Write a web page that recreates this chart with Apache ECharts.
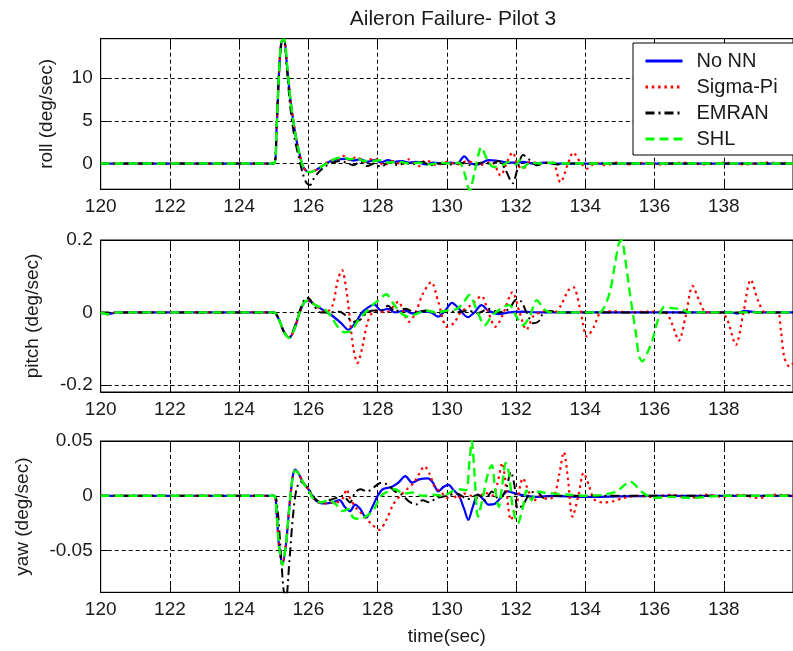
<!DOCTYPE html>
<html>
<head>
<meta charset="utf-8">
<script src="https://cdn.jsdelivr.net/npm/echarts@6/dist/echarts.min.js"></script>
<style>
  html, body { margin: 0; padding: 0; background: #fff; }
  #chart { width: 793px; height: 651px; }
</style>
</head>
<body>
<div id="chart"></div>
<script>
// ---- axes ----
const timeRange = [120, 140];
const timeStep = 2;
const rollTicks = [0, 5, 10];
const pitchTicks = [-0.2, 0, 0.2];
const yawTicks = [-0.05, 0, 0.05];
const rollRange = [-3, 14.6];
const pitchRange = [-0.22, 0.2];
const yawRange = [-0.088, 0.05];
const seriesNames = ['No NN', 'Sigma-Pi', 'EMRAN', 'SHL'];

// ---- roll rate (deg/sec), [time, value] ----
const rollNoNN = [[120,0],[125.0,0],[125.08,4],[125.15,10.5],[125.22,14.2],[125.3,14.4],[125.38,11.5],[125.48,7.5],[125.6,4],[125.72,1.5],[125.84,-0.3],[125.95,-0.9],[126.05,-1.0],[126.2,-0.8],[126.4,-0.3],[126.6,0.2],[126.85,0.5],[127.1,0.55],[127.3,0.35],[127.5,0.5],[127.7,0.2],[127.9,0.4],[128.1,0.15],[128.3,0.4],[128.5,0.2],[128.7,0.3],[128.9,0.1],[129.1,0.2],[129.4,-0.1],[129.6,0.1],[129.9,0.0],[130.1,0.1],[130.3,0.0],[130.5,0.85],[130.7,0.0],[130.9,-0.1],[131.2,0.4],[131.5,0.3],[131.8,0.1],[132.0,0.1],[132.2,0.2],[132.5,0.0],[132.8,0.1],[133.2,0.0],[134,0.0],[140,0]];
const rollSigmaPi = [[120,0],[125.0,0],[125.08,4],[125.15,10.5],[125.22,14.2],[125.3,14.4],[125.38,11.5],[125.48,7.5],[125.6,4],[125.72,1.5],[125.84,-0.3],[125.95,-0.9],[126.05,-1.0],[126.2,-0.8],[126.4,-0.3],[126.6,0.3],[126.9,0.6],[127.0,0.9],[127.2,0.4],[127.4,0.8],[127.6,0.2],[127.9,0.6],[128.2,-0.2],[128.4,0.3],[128.7,-0.1],[128.9,0.5],[129.2,-0.3],[129.4,0.4],[129.7,-0.2],[130.0,0.2],[130.3,-0.1],[130.6,0.3],[130.9,-0.2],[131.3,0.2],[131.55,-1.4],[131.75,0.3],[131.9,1.3],[132.05,-0.2],[132.2,-0.6],[132.4,0.2],[132.7,0.0],[133.05,0.1],[133.28,-2.2],[133.5,0.0],[133.65,1.3],[133.85,0.2],[134.05,-0.6],[134.3,0.1],[134.6,-0.2],[134.9,0.1],[135.3,-0.1],[135.7,0.1],[136.2,-0.1],[136.8,0.1],[137.4,-0.1],[138,0.1],[138.6,-0.1],[139.2,0.1],[140,0]];
const rollEMRAN = [[120,0],[125.0,0],[125.08,4],[125.15,10.5],[125.22,14.0],[125.3,14.2],[125.38,11],[125.48,6.5],[125.6,3],[125.72,0.8],[125.84,-1.2],[125.95,-2.3],[126.05,-2.5],[126.15,-1.8],[126.3,-1.0],[126.5,-0.3],[126.7,0.1],[126.9,0.3],[127.1,0.1],[127.3,-0.2],[127.5,0.2],[127.7,-0.3],[127.9,0.0],[128.1,-0.4],[128.3,0.1],[128.6,-0.2],[128.8,0.1],[129.0,-0.1],[129.3,0.2],[129.5,-0.2],[129.8,0.0],[130.1,-0.1],[130.4,0.1],[130.7,-0.2],[131.0,0.1],[131.3,0.0],[131.5,0.3],[131.7,-0.8],[131.9,-2.3],[132.05,-0.5],[132.2,1.0],[132.4,0.4],[132.6,-0.2],[132.9,0.1],[133.2,-0.1],[133.5,0.0],[140,0]];
const rollSHL = [[120,0],[125.0,0],[125.08,4],[125.15,10.5],[125.22,14.3],[125.3,14.5],[125.38,11.8],[125.48,7.5],[125.6,4],[125.72,1.5],[125.84,-0.3],[125.95,-0.9],[126.05,-1.0],[126.2,-0.8],[126.4,-0.3],[126.6,0.2],[126.8,0.6],[127.0,0.7],[127.2,0.5],[127.4,0.6],[127.6,0.3],[127.9,0.3],[128.1,0.4],[128.3,0.1],[128.6,0.2],[128.9,0.0],[129.2,0.1],[129.5,-0.1],[129.8,0.1],[130.1,0.0],[130.35,0.1],[130.5,-1.0],[130.66,-3.2],[130.8,-1.0],[131.0,1.9],[131.15,0.6],[131.35,-0.4],[131.6,-0.2],[131.8,0.2],[132.0,-0.1],[132.1,0.4],[132.2,-0.5],[132.4,0.1],[132.7,0.0],[133.0,0.1],[133.5,0.0],[140,0]];

// ---- pitch rate (deg/sec) ----
const pitchNoNN = [[120,0],[120.2,-0.005],[120.5,0],[125.0,0],[125.15,-0.02],[125.3,-0.055],[125.45,-0.07],[125.6,-0.045],[125.75,0.0],[125.9,0.03],[126.0,0.032],[126.2,0.02],[126.45,0.005],[126.7,-0.01],[126.95,-0.03],[127.15,-0.048],[127.35,-0.03],[127.55,0.0],[127.75,0.015],[127.9,0.022],[128.1,0.005],[128.3,0.01],[128.5,0.0],[128.8,0.005],[129.0,-0.003],[129.3,0.003],[129.55,0.0],[129.75,-0.012],[129.95,0.005],[130.15,0.026],[130.35,0.01],[130.6,-0.013],[130.8,0.0],[131.0,0.02],[131.2,0.005],[131.5,-0.005],[131.8,0.0],[132.2,0.002],[132.6,0.0],[133.2,0.0],[138.2,0],[138.4,-0.003],[138.6,0.004],[139,0],[140,0]];
const pitchSigmaPi = [[120,0],[120.2,-0.005],[120.5,0],[125.0,0],[125.15,-0.02],[125.3,-0.055],[125.45,-0.07],[125.6,-0.045],[125.75,0.0],[125.9,0.03],[126.0,0.032],[126.2,0.02],[126.5,0.0],[126.7,0.02],[126.85,0.09],[126.97,0.117],[127.1,0.06],[127.2,-0.02],[127.3,-0.1],[127.42,-0.14],[127.55,-0.1],[127.7,-0.03],[127.85,0.0],[128.0,0.005],[128.2,0.0],[128.35,0.005],[128.6,0.03],[128.75,0.0],[128.9,-0.026],[129.1,0.0],[129.3,0.05],[129.55,0.084],[129.75,0.03],[130.0,-0.04],[130.2,-0.03],[130.4,0.0],[130.7,0.02],[131.0,0.045],[131.2,0.0],[131.4,-0.04],[131.6,-0.01],[131.9,0.056],[132.1,0.0],[132.3,-0.048],[132.5,-0.01],[132.7,0.0],[132.9,0.005],[133.1,0.0],[133.3,0.02],[133.5,0.06],[133.65,0.07],[133.85,0.01],[134.05,-0.067],[134.25,-0.04],[134.45,0.0],[134.8,0.003],[135.3,0.0],[135.8,0.002],[136.3,0.0],[136.5,-0.03],[136.7,-0.078],[136.9,-0.01],[137.1,0.073],[137.3,0.03],[137.5,0.0],[137.9,0.0],[138.1,-0.02],[138.35,-0.09],[138.55,-0.01],[138.78,0.09],[139.0,0.03],[139.2,0.0],[139.55,0.0],[139.65,-0.05],[139.75,-0.125],[139.9,-0.15],[140,-0.14]];
const pitchEMRAN = [[120,0],[125,0],[125.15,-0.02],[125.3,-0.055],[125.45,-0.068],[125.6,-0.04],[125.75,0.005],[125.9,0.038],[126.0,0.04],[126.15,0.02],[126.35,0.0],[126.6,0.0],[126.9,0.002],[127.1,-0.01],[127.3,-0.026],[127.5,-0.02],[127.7,0.0],[127.9,0.005],[128.1,0.005],[128.3,0.018],[128.5,0.003],[128.8,0.01],[129.1,0.0],[129.4,0.005],[129.7,-0.003],[130.0,0.005],[130.3,0.0],[130.6,0.005],[130.9,-0.002],[131.2,0.01],[131.5,0.0],[131.8,0.01],[132.0,0.035],[132.15,0.03],[132.3,0.0],[132.5,-0.03],[132.65,-0.025],[132.8,0.0],[133.0,0.003],[133.3,0.0],[140,0]];
const pitchSHL = [[120,0],[120.2,-0.005],[120.5,0],[125,0],[125.15,-0.02],[125.3,-0.055],[125.45,-0.07],[125.6,-0.045],[125.75,0.0],[125.9,0.03],[126.0,0.032],[126.2,0.02],[126.45,0.01],[126.65,-0.01],[126.85,-0.04],[127.05,-0.055],[127.25,-0.05],[127.45,-0.02],[127.65,0.0],[127.85,0.02],[128.05,0.035],[128.25,0.05],[128.45,0.025],[128.65,0.0],[128.9,-0.012],[129.1,-0.005],[129.4,0.005],[129.7,0.0],[130.0,0.005],[130.3,0.01],[130.5,0.03],[130.65,0.048],[130.85,0.01],[131.1,-0.035],[131.3,-0.01],[131.55,0.01],[131.8,0.02],[132.0,-0.01],[132.2,-0.035],[132.4,-0.01],[132.6,0.034],[132.8,0.01],[133.0,0.0],[134.4,0.0],[134.55,0.015],[134.72,0.06],[134.85,0.13],[134.97,0.19],[135.05,0.2],[135.15,0.15],[135.3,0.044],[135.45,-0.05],[135.55,-0.12],[135.65,-0.135],[135.8,-0.11],[135.94,-0.076],[136.1,-0.02],[136.28,0.015],[136.5,0.012],[136.8,0.008],[137.0,0.0],[140,0]];

// ---- yaw rate (deg/sec) ----
const yawNoNN = [[120,0],[125,0],[125.08,-0.015],[125.15,-0.045],[125.25,-0.062],[125.35,-0.045],[125.45,-0.01],[125.55,0.018],[125.62,0.024],[125.72,0.02],[125.85,0.012],[126.0,0.006],[126.15,-0.002],[126.3,-0.006],[126.5,-0.007],[126.7,-0.006],[126.9,-0.004],[127.05,-0.01],[127.2,-0.014],[127.35,-0.008],[127.5,-0.012],[127.67,-0.02],[127.85,-0.01],[128.0,0.0],[128.15,0.006],[128.4,0.008],[128.6,0.012],[128.8,0.018],[129.0,0.012],[129.2,0.015],[129.45,0.016],[129.6,0.012],[129.75,0.004],[129.9,0.008],[130.05,0.01],[130.2,0.005],[130.35,0.0],[130.5,-0.012],[130.62,-0.022],[130.75,-0.01],[130.9,0.001],[131.05,-0.003],[131.2,-0.008],[131.4,-0.007],[131.6,0.0],[131.75,0.004],[132.0,0.002],[132.3,0.0],[132.6,-0.001],[133,0.0],[134,-0.001],[136,0],[140,0]];
const yawSigmaPi = [[120,0],[125,0],[125.08,-0.015],[125.15,-0.045],[125.25,-0.062],[125.35,-0.045],[125.45,-0.01],[125.55,0.018],[125.62,0.024],[125.72,0.02],[125.85,0.012],[126.0,0.006],[126.15,-0.002],[126.3,-0.006],[126.5,-0.007],[126.7,-0.006],[126.8,-0.006],[127.0,-0.002],[127.1,0.006],[127.2,-0.002],[127.4,-0.012],[127.6,-0.018],[127.8,-0.025],[128.05,-0.031],[128.25,-0.022],[128.45,-0.008],[128.65,0.0],[128.85,0.006],[129.05,0.012],[129.2,0.02],[129.35,0.027],[129.5,0.02],[129.65,0.008],[129.85,0.003],[130.0,-0.002],[130.15,0.003],[130.3,-0.003],[130.5,0.002],[130.7,0.0],[130.9,-0.002],[131.1,0.003],[131.3,0.0],[131.45,0.01],[131.6,0.03],[131.72,0.005],[131.85,-0.022],[132.0,-0.01],[132.2,0.016],[132.35,0.005],[132.5,-0.005],[132.7,0.0],[132.9,-0.003],[133.1,0.0],[133.25,0.02],[133.38,0.04],[133.5,0.015],[133.63,-0.019],[133.8,0.0],[133.95,0.021],[134.1,0.01],[134.25,-0.003],[134.5,-0.006],[134.8,-0.005],[135.1,-0.002],[135.5,0.0],[136,-0.001],[136.5,0.001],[137,-0.002],[137.5,0.001],[138,-0.001],[138.5,0.001],[139,-0.002],[139.5,0.001],[140,0]];
const yawEMRAN = [[120,0],[125,0],[125.1,-0.01],[125.2,-0.05],[125.28,-0.085],[125.35,-0.095],[125.45,-0.06],[125.55,-0.02],[125.65,0.005],[125.77,0.013],[125.9,0.01],[126.05,0.004],[126.2,-0.003],[126.4,-0.006],[126.6,-0.004],[126.8,-0.002],[127.0,0.0],[127.2,-0.006],[127.35,0.003],[127.5,0.006],[127.7,0.004],[127.9,0.008],[128.1,0.012],[128.3,0.01],[128.5,0.004],[128.7,0.001],[128.9,-0.005],[129.1,-0.008],[129.3,-0.004],[129.5,-0.006],[129.7,-0.002],[130.0,0.0],[130.3,0.002],[130.6,-0.003],[130.9,0.001],[131.1,-0.004],[131.3,0.004],[131.5,-0.003],[131.7,0.005],[131.85,0.022],[131.95,0.01],[132.05,-0.012],[132.2,-0.008],[132.4,0.002],[132.6,0.004],[132.8,-0.002],[133.0,0.0],[140,0]];
const yawSHL = [[120,0],[125,0],[125.08,-0.015],[125.15,-0.045],[125.25,-0.063],[125.35,-0.045],[125.45,-0.01],[125.55,0.018],[125.62,0.023],[125.72,0.02],[125.85,0.012],[126.0,0.005],[126.15,-0.003],[126.35,-0.006],[126.6,-0.004],[126.8,-0.008],[127.0,-0.014],[127.15,-0.012],[127.3,-0.02],[127.5,-0.021],[127.7,-0.018],[127.9,-0.012],[128.1,0.0],[128.3,0.004],[128.5,0.006],[128.75,0.002],[129.0,0.003],[129.3,0.0],[129.6,0.001],[129.9,0.0],[130.15,0.004],[130.35,0.006],[130.55,0.005],[130.65,0.03],[130.72,0.05],[130.8,0.02],[130.9,-0.019],[131.05,0.0],[131.2,0.022],[131.3,0.028],[131.4,0.005],[131.5,-0.01],[131.6,0.01],[131.7,0.03],[131.8,0.02],[131.9,-0.01],[132.05,-0.025],[132.2,-0.01],[132.3,0.005],[132.45,-0.004],[132.6,0.004],[132.8,0.003],[133.1,0.002],[133.5,0.001],[134,0.0],[134.5,0.001],[134.9,0.004],[135.1,0.009],[135.3,0.013],[135.5,0.008],[135.7,0.002],[136.0,-0.002],[136.5,-0.001],[137,-0.002],[138,0],[140,0]];

// ---- drawing ----
const FONT = "'Liberation Sans', Arial, sans-serif";
const TXT = '#1a1a1a';
const styles = [
  { color: '#0000ff', width: 2.2, type: 'solid' },
  { color: '#ff0000', width: 2.2, type: [2.5, 3.8] },
  { color: '#000000', width: 2, type: [9, 4, 2, 4] },
  { color: '#00ff00', width: 2.4, type: [9, 5] }
];

const panels = [
  { name: 'roll (deg/sec)', range: rollRange, ticks: rollTicks, gap: 44, top: 38.7, height: 150.5,
    data: [rollNoNN, rollSigmaPi, rollEMRAN, rollSHL] },
  { name: 'pitch (deg/sec)', range: pitchRange, ticks: pitchTicks, gap: 58, top: 240, height: 152,
    data: [pitchNoNN, pitchSigmaPi, pitchEMRAN, pitchSHL] },
  { name: 'yaw (deg/sec)', range: yawRange, ticks: yawTicks, gap: 68, top: 441, height: 151.3,
    data: [yawNoNN, yawSigmaPi, yawEMRAN, yawSHL] }
];

const gridLine = { show: true, lineStyle: { color: '#000', width: 1, type: [4, 3] } };
const grids = [], xAxes = [], topAxes = [], yAxes = [], series = [];

panels.forEach((p, i) => {
  grids.push({ left: 100.7, top: p.top, width: 701.2, height: p.height,
    show: true, borderColor: '#000', borderWidth: 1, backgroundColor: '#fff' });
  xAxes.push({
    gridIndex: i, type: 'value', min: timeRange[0], max: timeRange[1], interval: timeStep,
    axisLine: { show: true, onZero: false, lineStyle: { color: '#000', width: 1 } },
    axisTick: { show: true, inside: true, length: 7, lineStyle: { color: '#000' } },
    axisLabel: { show: true, showMaxLabel: false, color: TXT, fontSize: 19, fontFamily: FONT, margin: 8 },
    splitLine: gridLine,
    name: i === 2 ? 'time(sec)' : '', nameLocation: 'middle', nameGap: 35,
    nameTextStyle: { color: TXT, fontSize: 19, fontFamily: FONT }
  });
  topAxes.push({
    gridIndex: i, type: 'value', position: 'top', min: timeRange[0], max: timeRange[1], interval: timeStep,
    axisLine: { show: true, onZero: false, lineStyle: { color: '#000', width: 1 } },
    axisTick: { show: true, inside: true, length: 7, lineStyle: { color: '#000' } },
    axisLabel: { show: false }, splitLine: { show: false }
  });
  yAxes.push({
    gridIndex: i, type: 'value', min: p.range[0], max: p.range[1],
    axisLine: { show: true, onZero: false, lineStyle: { color: '#000', width: 1 } },
    axisTick: { show: true, inside: true, length: 7, customValues: p.ticks, lineStyle: { color: '#000' } },
    axisLabel: { show: true, customValues: p.ticks, color: TXT, fontSize: 19, fontFamily: FONT, margin: 8 },
    splitLine: gridLine,
    name: p.name, nameLocation: 'middle', nameGap: p.gap, nameRotate: 90,
    nameTextStyle: { color: TXT, fontSize: 19, fontFamily: FONT }
  });
  p.data.forEach((d, k) => {
    const s = styles[k];
    series.push({
      type: 'line', name: seriesNames[k], xAxisIndex: i, yAxisIndex: i, data: d,
      symbol: 'none', showSymbol: false, smooth: 0.3, clip: true,
      lineStyle: { color: s.color, width: s.width, type: s.type },
      itemStyle: { color: s.color }, z: 3 + k
    });
  });
});

const chart = echarts.init(document.getElementById('chart'), null, { renderer: 'canvas' });
chart.setOption({
  animation: false,
  backgroundColor: '#fff',
  title: {
    text: 'Aileron Failure- Pilot 3', left: 448, top: 4, textAlign: 'center',
    textStyle: { color: TXT, fontSize: 21, fontWeight: 'normal', fontFamily: FONT }
  },
  legend: {
    data: seriesNames, orient: 'vertical', left: 633, top: 43,
    padding: [8, 16, 6, 11], itemGap: 6, itemWidth: 37, itemHeight: 14,
    backgroundColor: '#fff', borderColor: '#000', borderWidth: 1,
    itemStyle: { opacity: 0, borderWidth: 0 },
    lineStyle: { width: 3 },
    textStyle: { color: TXT, fontSize: 20, fontFamily: FONT, padding: [0, 0, 0, 9] },
    selectedMode: false
  },
  grid: grids,
  xAxis: xAxes.concat(topAxes),
  yAxis: yAxes,
  series: series
});
</script>
</body>
</html>
